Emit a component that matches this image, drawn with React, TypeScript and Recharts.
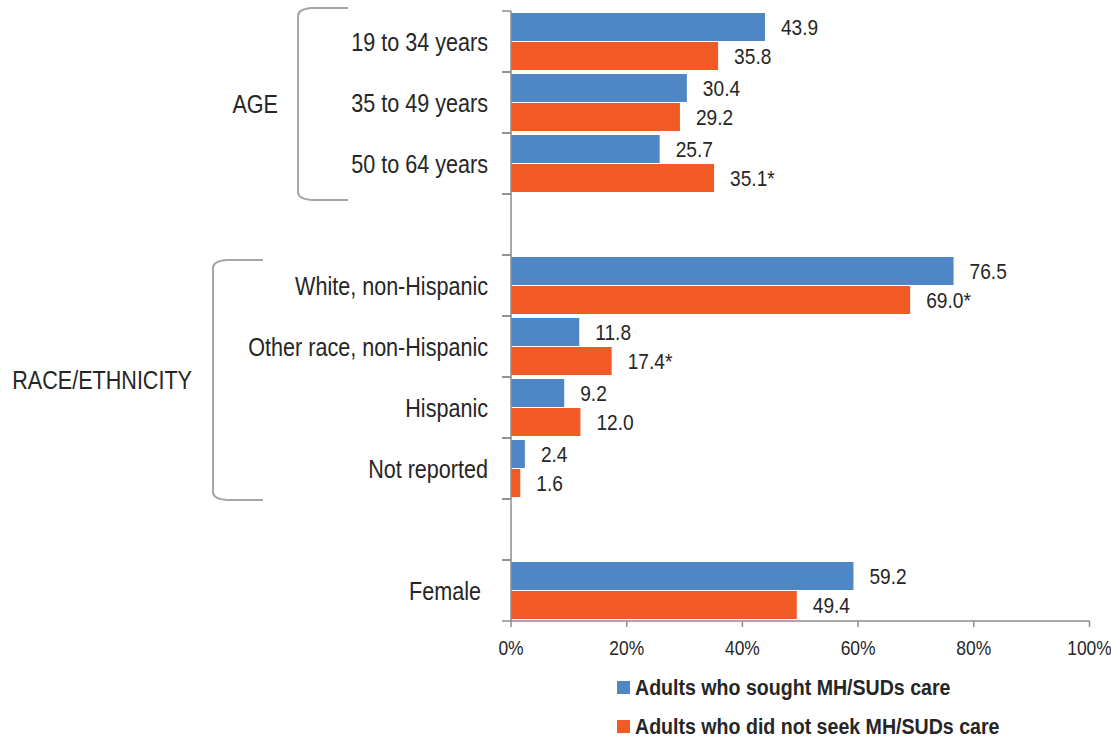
import React from 'react';
import { BarChart, Bar, XAxis, YAxis, LabelList, Legend, Customized } from 'recharts';

// ---------- data ----------
const categories = [
  '19 to 34 years',
  '35 to 49 years',
  '50 to 64 years',
  '',
  'White, non-Hispanic',
  'Other race, non-Hispanic',
  'Hispanic',
  'Not reported',
  '',
  'Female',
];
const soughtValues: (number | null)[] = [43.9, 30.4, 25.7, null, 76.5, 11.8, 9.2, 2.4, null, 59.2];
const notSoughtValues: (number | null)[] = [35.8, 29.2, 35.1, null, 69.0, 17.4, 12.0, 1.6, null, 49.4];
const notSoughtSignificant = [false, false, true, false, true, true, false, false, false, false];
const xTicks = [0, 20, 40, 60, 80, 100];
const seriesNames = ['Adults who sought MH/SUDs care', 'Adults who did not seek MH/SUDs care'];
const groups = [
  { label: 'AGE', first: 0, last: 2 },
  { label: 'RACE/ETHNICITY', first: 4, last: 7 },
];

// ---------- style / layout ----------
const FONT = "'Liberation Sans', Arial, sans-serif";
const BLUE = '#4F86C6';
const ORANGE = '#F15A24';
const TEXT = '#262626';
const AXIS = '#8c8c8c';
const BRACKET = '#a6a6a6';
const W = 1111;
const H = 739;
const PLOT_LEFT = 511;
const PLOT_TOP = 11;
const PLOT_BOTTOM = 621;
const BAND = (PLOT_BOTTOM - PLOT_TOP) / categories.length;
const LABEL_RIGHT = 488;
const labelShift: Record<number, number> = { 9: -7 };
const bracketLayout = [
  { x: 298, armEnd: 348, labelX: 278, top: 8, bottom: 200 },
  { x: 213, armEnd: 263, labelX: 192, top: 260, bottom: 500 },
];

const data = categories.map((name, i) => ({
  id: `c${i}`,
  name,
  sought: soughtValues[i],
  notSought: notSoughtValues[i],
  soughtLabel: soughtValues[i] == null ? null : (soughtValues[i] as number).toFixed(1),
  notSoughtLabel:
    notSoughtValues[i] == null
      ? null
      : (notSoughtValues[i] as number).toFixed(1) + (notSoughtSignificant[i] ? '*' : ''),
}));

// condensed text (narrow sans look) via horizontal scaling
const NText = ({ x, y, size, scale, anchor, children, weight }: any) => (
  <text
    transform={`translate(${x},${y}) scale(${scale},1)`}
    x={0}
    y={0}
    textAnchor={anchor || 'start'}
    dominantBaseline="central"
    fontSize={size}
    fontWeight={weight || 'normal'}
    fill={TEXT}
    fontFamily={FONT}
  >
    {children}
  </text>
);

const ValueLabel = (props: any) => {
  const { x, y, width, height, value } = props;
  if (value == null || value === '') return null;
  return (
    <NText x={Number(x) + Number(width) + 16} y={Number(y) + Number(height) / 2} size={22} scale={0.87}>
      {value}
    </NText>
  );
};

const YTick = (props: any) => {
  const { y, payload } = props;
  const idx = parseInt(String(payload.value).slice(1), 10);
  const label = categories[idx] ?? '';
  return (
    <g>
      <line x1={PLOT_LEFT - 9} x2={PLOT_LEFT} y1={y - BAND / 2} y2={y - BAND / 2} stroke={AXIS} strokeWidth={1.5} />
      <line x1={PLOT_LEFT - 9} x2={PLOT_LEFT} y1={y + BAND / 2} y2={y + BAND / 2} stroke={AXIS} strokeWidth={1.5} />
      {label ? (
        <NText x={LABEL_RIGHT + (labelShift[idx] || 0)} y={y} size={26} scale={0.83} anchor="end">
          {label}
        </NText>
      ) : null}
    </g>
  );
};

const XTick = (props: any) => {
  const { x, y, payload } = props;
  return (
    <NText x={x} y={y} size={20.5} scale={0.85} anchor="middle">
      {`${payload.value}%`}
    </NText>
  );
};

const Brackets = () => (
  <g>
    {groups.map((g, i) => {
      const b = bracketLayout[i];
      const d = `M ${b.armEnd} ${b.top} L ${b.x + 14} ${b.top} Q ${b.x} ${b.top + 1} ${b.x} ${b.top + 8} L ${b.x} ${b.bottom - 8} Q ${b.x} ${b.bottom - 1} ${b.x + 14} ${b.bottom} L ${b.armEnd} ${b.bottom}`;
      return (
        <g key={g.label}>
          <path d={d} fill="none" stroke={BRACKET} strokeWidth={2} />
          <NText x={b.labelX} y={(b.top + b.bottom) / 2} size={26} scale={0.83} anchor="end">
            {g.label}
          </NText>
        </g>
      );
    })}
  </g>
);

const LegendContent = () => {
  const colors = [BLUE, ORANGE];
  return (
    <div style={{ display: 'flex', flexDirection: 'column', fontFamily: FONT }}>
      {seriesNames.map((n, i) => (
        <div key={n} style={{ display: 'flex', alignItems: 'center', height: 39 }}>
          <span style={{ display: 'inline-block', width: 13, height: 13, background: colors[i], marginRight: 5, flex: 'none' }} />
          <span
            style={{
              display: 'inline-block',
              fontWeight: 'bold',
              fontSize: 22,
              color: TEXT,
              whiteSpace: 'nowrap',
              transform: 'scaleX(0.89)',
              transformOrigin: 'left center',
            }}
          >
            {n}
          </span>
        </div>
      ))}
    </div>
  );
};

export default function App() {
  return (
    <div style={{ width: W, height: H, fontFamily: FONT, background: '#fff' }}>
      <style>{'body{margin:0;}'}</style>
      <BarChart
        width={W}
        height={H}
        data={data}
        layout="vertical"
        margin={{ top: PLOT_TOP, right: 21.5, bottom: 58, left: 0 }}
        barSize={28}
        barGap={1}
      >
        <XAxis
          type="number"
          domain={[0, 100]}
          ticks={xTicks}
          axisLine={{ stroke: AXIS, strokeWidth: 1.5 }}
          tickLine={{ stroke: AXIS, strokeWidth: 1.5 }}
          tickSize={6}
          tickMargin={21}
          height={60}
          tick={<XTick />}
          interval={0}
        />
        <YAxis
          type="category"
          dataKey="id"
          width={PLOT_LEFT}
          axisLine={{ stroke: AXIS, strokeWidth: 1.5 }}
          tickLine={false}
          tick={<YTick />}
          interval={0}
        />
        <Bar dataKey="sought" name={seriesNames[0]} fill={BLUE} isAnimationActive={false}>
          <LabelList dataKey="soughtLabel" content={<ValueLabel />} />
        </Bar>
        <Bar dataKey="notSought" name={seriesNames[1]} fill={ORANGE} isAnimationActive={false}>
          <LabelList dataKey="notSoughtLabel" content={<ValueLabel />} />
        </Bar>
        <Customized component={Brackets} />
        <Legend
          layout="horizontal"
          verticalAlign="middle"
          align="center"
          content={<LegendContent />}
          wrapperStyle={{ left: 617, top: 668, width: 480 }}
        />
      </BarChart>
    </div>
  );
}
